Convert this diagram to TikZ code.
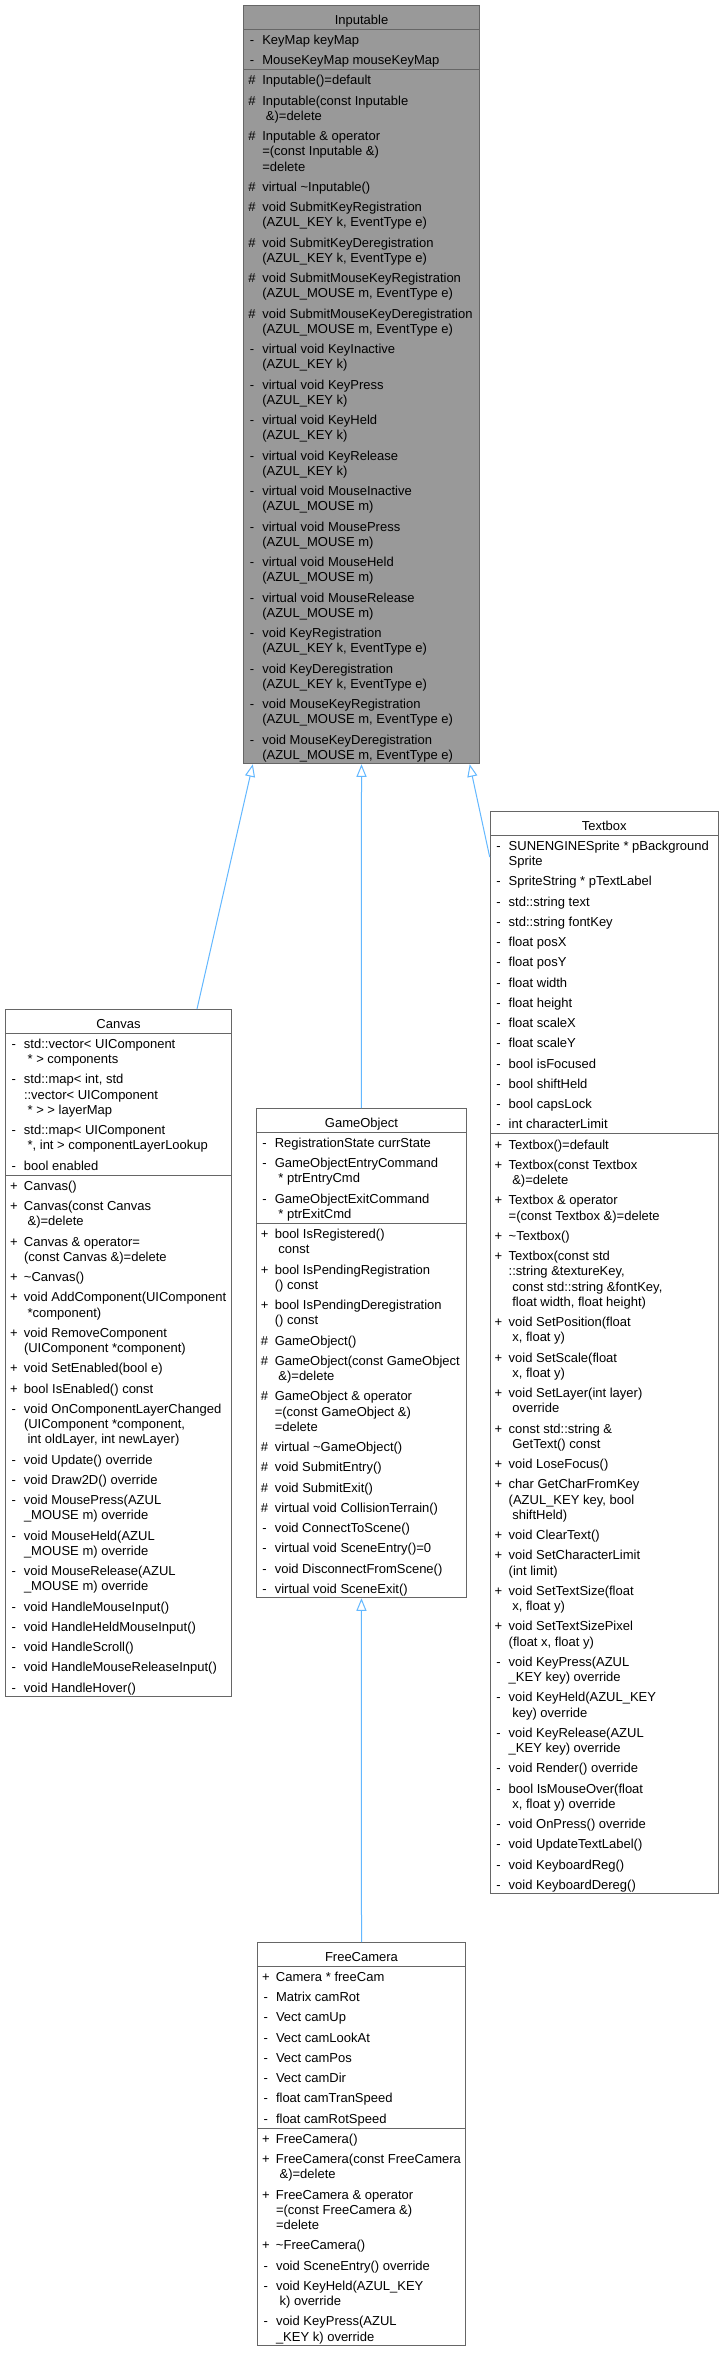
\documentclass[tikz,border=0pt]{standalone}
\usepackage{fontspec}
\setmainfont{Liberation Sans}
\usetikzlibrary{arrows.meta}
\definecolor{sepc}{HTML}{666666}
\definecolor{edgec}{HTML}{63B8FF}
\definecolor{curfill}{HTML}{999999}
\makeatletter
\def\ml@lines#1\\#2\@nil{\mbox{#1}\if\relax\detokenize{#2}\relax\else\newline\ml@lines#2\@nil\fi}
\newcommand\mb[2]{\vskip5pt\noindent\hangindent=18.5pt\hangafter=1
  \makebox[18.5pt][l]{\makebox[16.6pt][c]{#1}}\rule[-3pt]{0pt}{13.25pt}\ml@lines#2\\\@nil\rule[-3pt]{0pt}{3pt}\par}
\makeatother
\newcommand\seprule{{\color{sepc}\hrule height0.5pt depth0.5pt}}
\newcommand\classbox[4]{\vbox{\hsize=#1\relax\parindent=0pt\parskip=0pt\baselineskip=15.25pt\lineskip=0pt\lineskiplimit=-\maxdimen
  \hbox to\hsize{\hss\rule[-4.25pt]{0pt}{23pt}#2\hss}%
  \seprule\vskip-0.5pt #3\vskip1.5pt\seprule\vskip-0.5pt #4\vskip1.5pt}}
\tikzset{
  cls/.style={draw=sepc, line width=1pt, fill=white, inner sep=0pt, anchor=north west,
    font=\fontsize{13pt}{15.25pt}\selectfont},
  curcls/.style={cls, fill=curfill},
  inh/.style={draw=edgec, line width=1pt, -{Triangle[open, length=12.5pt, width=10pt]}}
}
\begin{document}
\begin{tikzpicture}[x=1pt, y=-1pt]
\path[use as bounding box, fill=white] (0,0) rectangle (723,2354);

\node[curcls] (inputable) at (243.3,5) {\classbox{235.4pt}{Inputable}{%
\mb{-}{KeyMap keyMap}
\mb{-}{MouseKeyMap mouseKeyMap}}{%
\mb{\#}{Inputable()=default}
\mb{\#}{Inputable(const Inputable\\\ \&)=delete}
\mb{\#}{Inputable \& operator\\=(const Inputable \&)\\=delete}
\mb{\#}{virtual \textasciitilde Inputable()}
\mb{\#}{void SubmitKeyRegistration\\(AZUL\_KEY k, EventType e)}
\mb{\#}{void SubmitKeyDeregistration\\(AZUL\_KEY k, EventType e)}
\mb{\#}{void SubmitMouseKeyRegistration\\(AZUL\_MOUSE m, EventType e)}
\mb{\#}{void SubmitMouseKeyDeregistration\\(AZUL\_MOUSE m, EventType e)}
\mb{-}{virtual void KeyInactive\\(AZUL\_KEY k)}
\mb{-}{virtual void KeyPress\\(AZUL\_KEY k)}
\mb{-}{virtual void KeyHeld\\(AZUL\_KEY k)}
\mb{-}{virtual void KeyRelease\\(AZUL\_KEY k)}
\mb{-}{virtual void MouseInactive\\(AZUL\_MOUSE m)}
\mb{-}{virtual void MousePress\\(AZUL\_MOUSE m)}
\mb{-}{virtual void MouseHeld\\(AZUL\_MOUSE m)}
\mb{-}{virtual void MouseRelease\\(AZUL\_MOUSE m)}
\mb{-}{void KeyRegistration\\(AZUL\_KEY k, EventType e)}
\mb{-}{void KeyDeregistration\\(AZUL\_KEY k, EventType e)}
\mb{-}{void MouseKeyRegistration\\(AZUL\_MOUSE m, EventType e)}
\mb{-}{void MouseKeyDeregistration\\(AZUL\_MOUSE m, EventType e)}}};

\node[cls] (canvas) at (5,1009) {\classbox{226pt}{Canvas}{%
\mb{-}{std::vector< UIComponent\\\ * > components}
\mb{-}{std::map< int, std\\::vector< UIComponent\\\ * > > layerMap}
\mb{-}{std::map< UIComponent\\\ *, int > componentLayerLookup}
\mb{-}{bool enabled}}{%
\mb{+}{Canvas()}
\mb{+}{Canvas(const Canvas\\\ \&)=delete}
\mb{+}{Canvas \& operator=\\(const Canvas \&)=delete}
\mb{+}{\textasciitilde Canvas()}
\mb{+}{void AddComponent(UIComponent\\\ *component)}
\mb{+}{void RemoveComponent\\(UIComponent *component)}
\mb{+}{void SetEnabled(bool e)}
\mb{+}{bool IsEnabled() const}
\mb{-}{void OnComponentLayerChanged\\(UIComponent *component,\\\ int oldLayer, int newLayer)}
\mb{-}{void Update() override}
\mb{-}{void Draw2D() override}
\mb{-}{void MousePress(AZUL\\\_MOUSE m) override}
\mb{-}{void MouseHeld(AZUL\\\_MOUSE m) override}
\mb{-}{void MouseRelease(AZUL\\\_MOUSE m) override}
\mb{-}{void HandleMouseInput()}
\mb{-}{void HandleHeldMouseInput()}
\mb{-}{void HandleScroll()}
\mb{-}{void HandleMouseReleaseInput()}
\mb{-}{void HandleHover()}}};

\node[cls] (gameobject) at (255.8,1108) {\classbox{210.3pt}{GameObject}{%
\mb{-}{RegistrationState currState}
\mb{-}{GameObjectEntryCommand\\\ * ptrEntryCmd}
\mb{-}{GameObjectExitCommand\\\ * ptrExitCmd}}{%
\mb{+}{bool IsRegistered()\\\ const}
\mb{+}{bool IsPendingRegistration\\() const}
\mb{+}{bool IsPendingDeregistration\\() const}
\mb{\#}{GameObject()}
\mb{\#}{GameObject(const GameObject\\\ \&)=delete}
\mb{\#}{GameObject \& operator\\=(const GameObject \&)\\=delete}
\mb{\#}{virtual \textasciitilde GameObject()}
\mb{\#}{void SubmitEntry()}
\mb{\#}{void SubmitExit()}
\mb{\#}{virtual void CollisionTerrain()}
\mb{-}{void ConnectToScene()}
\mb{-}{virtual void SceneEntry()=0}
\mb{-}{void DisconnectFromScene()}
\mb{-}{virtual void SceneExit()}}};

\node[cls] (textbox) at (489.7,811) {\classbox{228pt}{Textbox}{%
\mb{-}{SUNENGINESprite * pBackground\\Sprite}
\mb{-}{SpriteString * pTextLabel}
\mb{-}{std::string text}
\mb{-}{std::string fontKey}
\mb{-}{float posX}
\mb{-}{float posY}
\mb{-}{float width}
\mb{-}{float height}
\mb{-}{float scaleX}
\mb{-}{float scaleY}
\mb{-}{bool isFocused}
\mb{-}{bool shiftHeld}
\mb{-}{bool capsLock}
\mb{-}{int characterLimit}}{%
\mb{+}{Textbox()=default}
\mb{+}{Textbox(const Textbox\\\ \&)=delete}
\mb{+}{Textbox \& operator\\=(const Textbox \&)=delete}
\mb{+}{\textasciitilde Textbox()}
\mb{+}{Textbox(const std\\::string \&textureKey,\\\ const std::string \&fontKey,\\\ float width, float height)}
\mb{+}{void SetPosition(float\\\ x, float y)}
\mb{+}{void SetScale(float\\\ x, float y)}
\mb{+}{void SetLayer(int layer)\\\ override}
\mb{+}{const std::string \&\\\ GetText() const}
\mb{+}{void LoseFocus()}
\mb{+}{char GetCharFromKey\\(AZUL\_KEY key, bool\\\ shiftHeld)}
\mb{+}{void ClearText()}
\mb{+}{void SetCharacterLimit\\(int limit)}
\mb{+}{void SetTextSize(float\\\ x, float y)}
\mb{+}{void SetTextSizePixel\\(float x, float y)}
\mb{-}{void KeyPress(AZUL\\\_KEY key) override}
\mb{-}{void KeyHeld(AZUL\_KEY\\\ key) override}
\mb{-}{void KeyRelease(AZUL\\\_KEY key) override}
\mb{-}{void Render() override}
\mb{-}{bool IsMouseOver(float\\\ x, float y) override}
\mb{-}{void OnPress() override}
\mb{-}{void UpdateTextLabel()}
\mb{-}{void KeyboardReg()}
\mb{-}{void KeyboardDereg()}}};

\node[cls] (freecamera) at (257,1942) {\classbox{208pt}{FreeCamera}{%
\mb{+}{Camera * freeCam}
\mb{-}{Matrix camRot}
\mb{-}{Vect camUp}
\mb{-}{Vect camLookAt}
\mb{-}{Vect camPos}
\mb{-}{Vect camDir}
\mb{-}{float camTranSpeed}
\mb{-}{float camRotSpeed}}{%
\mb{+}{FreeCamera()}
\mb{+}{FreeCamera(const FreeCamera\\\ \&)=delete}
\mb{+}{FreeCamera \& operator\\=(const FreeCamera \&)\\=delete}
\mb{+}{\textasciitilde FreeCamera()}
\mb{-}{void SceneEntry() override}
\mb{-}{void KeyHeld(AZUL\_KEY\\\ k) override}
\mb{-}{void KeyPress(AZUL\\\_KEY k) override}}};

\draw[inh] ([xshift=192pt]canvas.north west) -- ([xshift=9.5pt]inputable.south west);
\draw[inh] (gameobject.north) -- (inputable.south);
\draw[inh] ([yshift=-46pt]textbox.north west) -- ([xshift=-10pt]inputable.south east);
\draw[inh] (freecamera.north) -- (gameobject.south);
\end{tikzpicture}
\end{document}
